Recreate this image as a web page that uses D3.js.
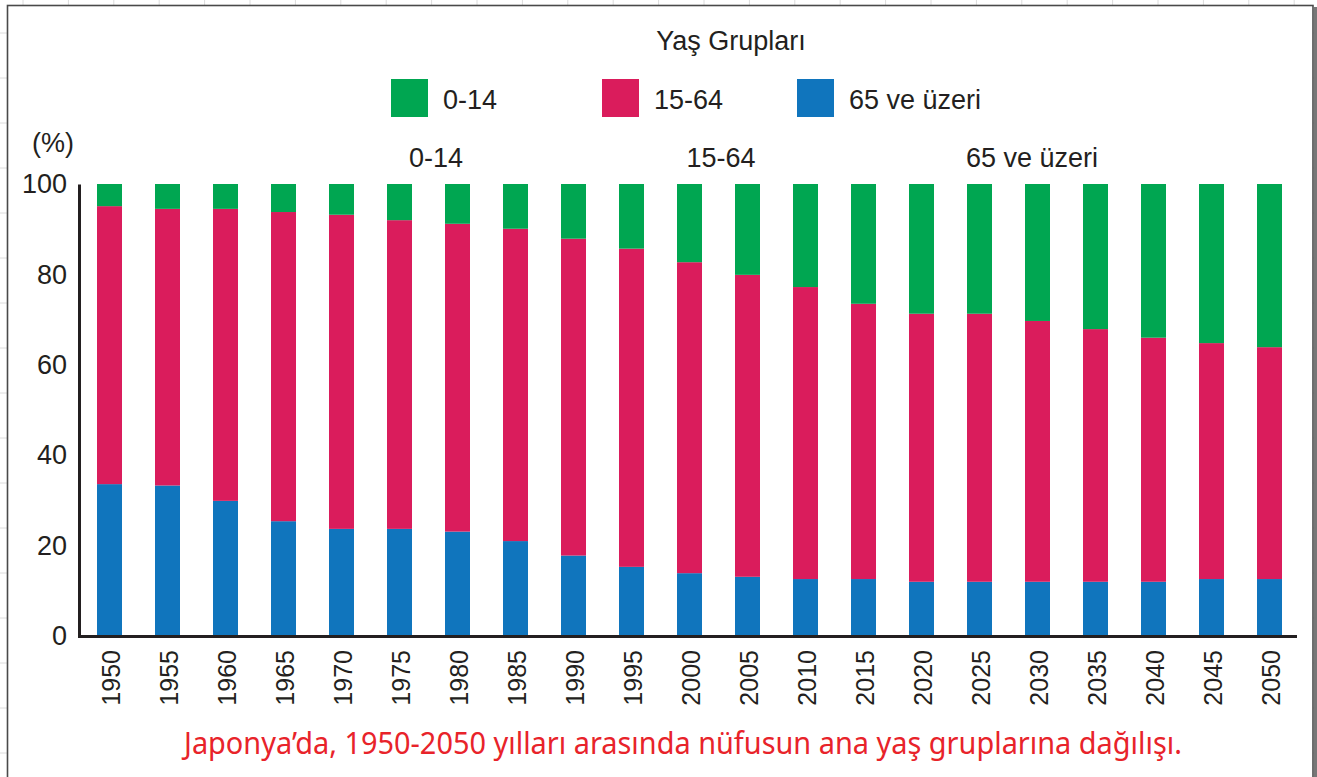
<!DOCTYPE html>
<html>
<head>
<meta charset="utf-8">
<script src="https://cdn.jsdelivr.net/npm/d3@7"></script>
<style>
	html, body { margin: 0; padding: 0; background: #fff; }
	svg { display: block; }
	.axis text { font-family: "Liberation Sans", Arial, sans-serif; fill: #231f20; }
</style>
</head>
<body>
<svg id="chart" width="1317" height="777"></svg>
<script>
"use strict";

// yillar
var aYears = ["1950", "1955", "1960", "1965", "1970", "1975", "1980", "1985", "1990", "1995", "2000",
	"2005", "2010", "2015", "2020", "2025", "2030", "2035", "2040", "2045", "2050"];
// 65 ve uzeri (mavi, altta)
var aYasli = [33.6, 33.3, 29.9, 25.4, 23.7, 23.7, 23.1, 21.0, 17.8, 15.3, 13.9,
	13.1, 12.6, 12.6, 12.0, 12.0, 12.0, 12.0, 12.0, 12.6, 12.6];
// 15-64 (kirmizi, ortada)
var aOrta = [61.5, 61.2, 64.6, 68.4, 69.5, 68.3, 68.1, 69.1, 70.1, 70.4, 68.8,
	66.8, 64.6, 60.9, 59.3, 59.3, 57.7, 55.9, 54.0, 52.2, 51.3];
// 0-14 (yesil, ustte)
var aGenc = [4.9, 5.5, 5.5, 6.2, 6.8, 8.0, 8.8, 9.9, 12.1, 14.3, 17.3,
	20.1, 22.8, 26.5, 28.7, 28.7, 30.3, 32.1, 34.0, 35.2, 36.1];
var aYTicks = [0, 20, 40, 60, 80, 100];
var aLegend = ["0-14", "15-64", "65 ve üzeri"];
var aKeys = ["genc", "orta", "yasli"];
var aColors = ["#00a651", "#da1c5c", "#1075bd"];

var sFont = "\"Liberation Sans\", Arial, sans-serif",
	sText = "#231f20";

var oSVG = d3.select("#chart");

// arka plandaki kareli kagit
var oGrid = oSVG.append("g");
oGrid.selectAll("line.v")
	.data(d3.range(0, 30))
	.enter().append("line")
	.attr("x1", function(i) { return 23 + i * 45.4; })
	.attr("x2", function(i) { return 23 + i * 45.4; })
	.attr("y1", 0).attr("y2", 777)
	.attr("stroke", "#dcdcdc").attr("stroke-width", 1);
oGrid.selectAll("line.h")
	.data(d3.range(-1, 18))
	.enter().append("line")
	.attr("x1", 0).attr("x2", 1317)
	.attr("y1", function(i) { return 33 + i * 45; })
	.attr("y2", function(i) { return 33 + i * 45; })
	.attr("stroke", "#dcdcdc").attr("stroke-width", 1);

// cerceve
oSVG.append("rect")
	.attr("x", 1314).attr("y", 7).attr("width", 3).attr("height", 780)
	.attr("fill", "#777");
oSVG.append("rect")
	.attr("x", 7.5).attr("y", 5.5).attr("width", 1305.5).attr("height", 790)
	.attr("fill", "#fff").attr("stroke", "#4a4a4a").attr("stroke-width", 1.6);

var oX = d3.scaleBand()
	.domain(aYears)
	.range([80.5, 1298.5])
	.paddingInner(0.569)
	.paddingOuter(0.2845);

var oY = d3.scaleLinear()
	.domain([0, 100])
	.range([636, 184]);

var aRows = aYears.map(function(sYear, i) {
	return { year: sYear, yasli: aYasli[i], orta: aOrta[i], genc: aGenc[i] };
});

var aStack = d3.stack().keys(["yasli", "orta", "genc"])(aRows);
var oColor = d3.scaleOrdinal().domain(aKeys).range(aColors);

oSVG.append("g")
	.selectAll("g")
	.data(aStack)
	.enter().append("g")
	.attr("fill", function(d) { return oColor(d.key); })
	.selectAll("rect")
	.data(function(d) { return d; })
	.enter().append("rect")
	.attr("x", function(d) { return oX(d.data.year); })
	.attr("width", oX.bandwidth())
	.attr("y", function(d) { return oY(d[1]); })
	.attr("height", function(d) { return oY(d[0]) - oY(d[1]); });

// eksenler
var oYAxis = oSVG.append("g")
	.attr("class", "axis")
	.attr("transform", "translate(79,0)")
	.call(d3.axisLeft(oY).tickValues(aYTicks).tickSize(0).tickSizeOuter(0).tickPadding(12));
oYAxis.select(".domain").attr("stroke", sText).attr("stroke-width", 3);
oYAxis.selectAll("text").attr("font-size", 27);

var oXAxis = oSVG.append("g")
	.attr("class", "axis")
	.attr("transform", "translate(0,636)")
	.call(d3.axisBottom(oX).tickSize(0).tickSizeOuter(0));
oXAxis.select(".domain").attr("stroke", sText).attr("stroke-width", 3)
	.attr("d", "M78,0.5H1297");
oXAxis.selectAll("text")
	.attr("font-size", 25)
	.attr("transform", "rotate(-90)")
	.attr("text-anchor", "end")
	.attr("x", -14)
	.attr("y", 0)
	.attr("dy", "0.42em");

oSVG.append("text")
	.attr("x", 32).attr("y", 152)
	.attr("font-family", sFont).attr("font-size", 27).attr("fill", sText)
	.text("(%)");

// lejant
oSVG.append("text")
	.attr("x", 731).attr("y", 50)
	.attr("text-anchor", "middle")
	.attr("font-family", sFont).attr("font-size", 27).attr("fill", sText)
	.text("Yaş Grupları");

var aLegendX = [391, 602, 797];
var oLegend = oSVG.append("g")
	.selectAll("g")
	.data(aLegend)
	.enter().append("g")
	.attr("transform", function(d, i) { return "translate(" + aLegendX[i] + ",79)"; });
oLegend.append("rect")
	.attr("width", 37).attr("height", 38)
	.attr("fill", function(d, i) { return aColors[i]; });
oLegend.append("text")
	.attr("x", 52).attr("y", 30)
	.attr("font-family", sFont).attr("font-size", 27).attr("fill", sText)
	.text(function(d) { return d; });

// grafik ustundeki etiketler
var aHeadX = [436, 721, 1032];
oSVG.append("g")
	.selectAll("text")
	.data(aLegend)
	.enter().append("text")
	.attr("x", function(d, i) { return aHeadX[i]; })
	.attr("y", 167)
	.attr("text-anchor", "middle")
	.attr("font-family", sFont).attr("font-size", 27).attr("fill", sText)
	.text(function(d) { return d; });

// alt yazi
oSVG.append("text")
	.attr("x", 184).attr("y", 754)
	.attr("textLength", 998)
	.attr("lengthAdjust", "spacingAndGlyphs")
	.attr("font-family", "\"Comic Sans MS\", \"Noto Sans\", sans-serif")
	.attr("font-size", 30)
	.attr("fill", "#e8232a")
	.text("Japonya’da, 1950-2050 yılları arasında nüfusun ana yaş gruplarına dağılışı.");
</script>
</body>
</html>
